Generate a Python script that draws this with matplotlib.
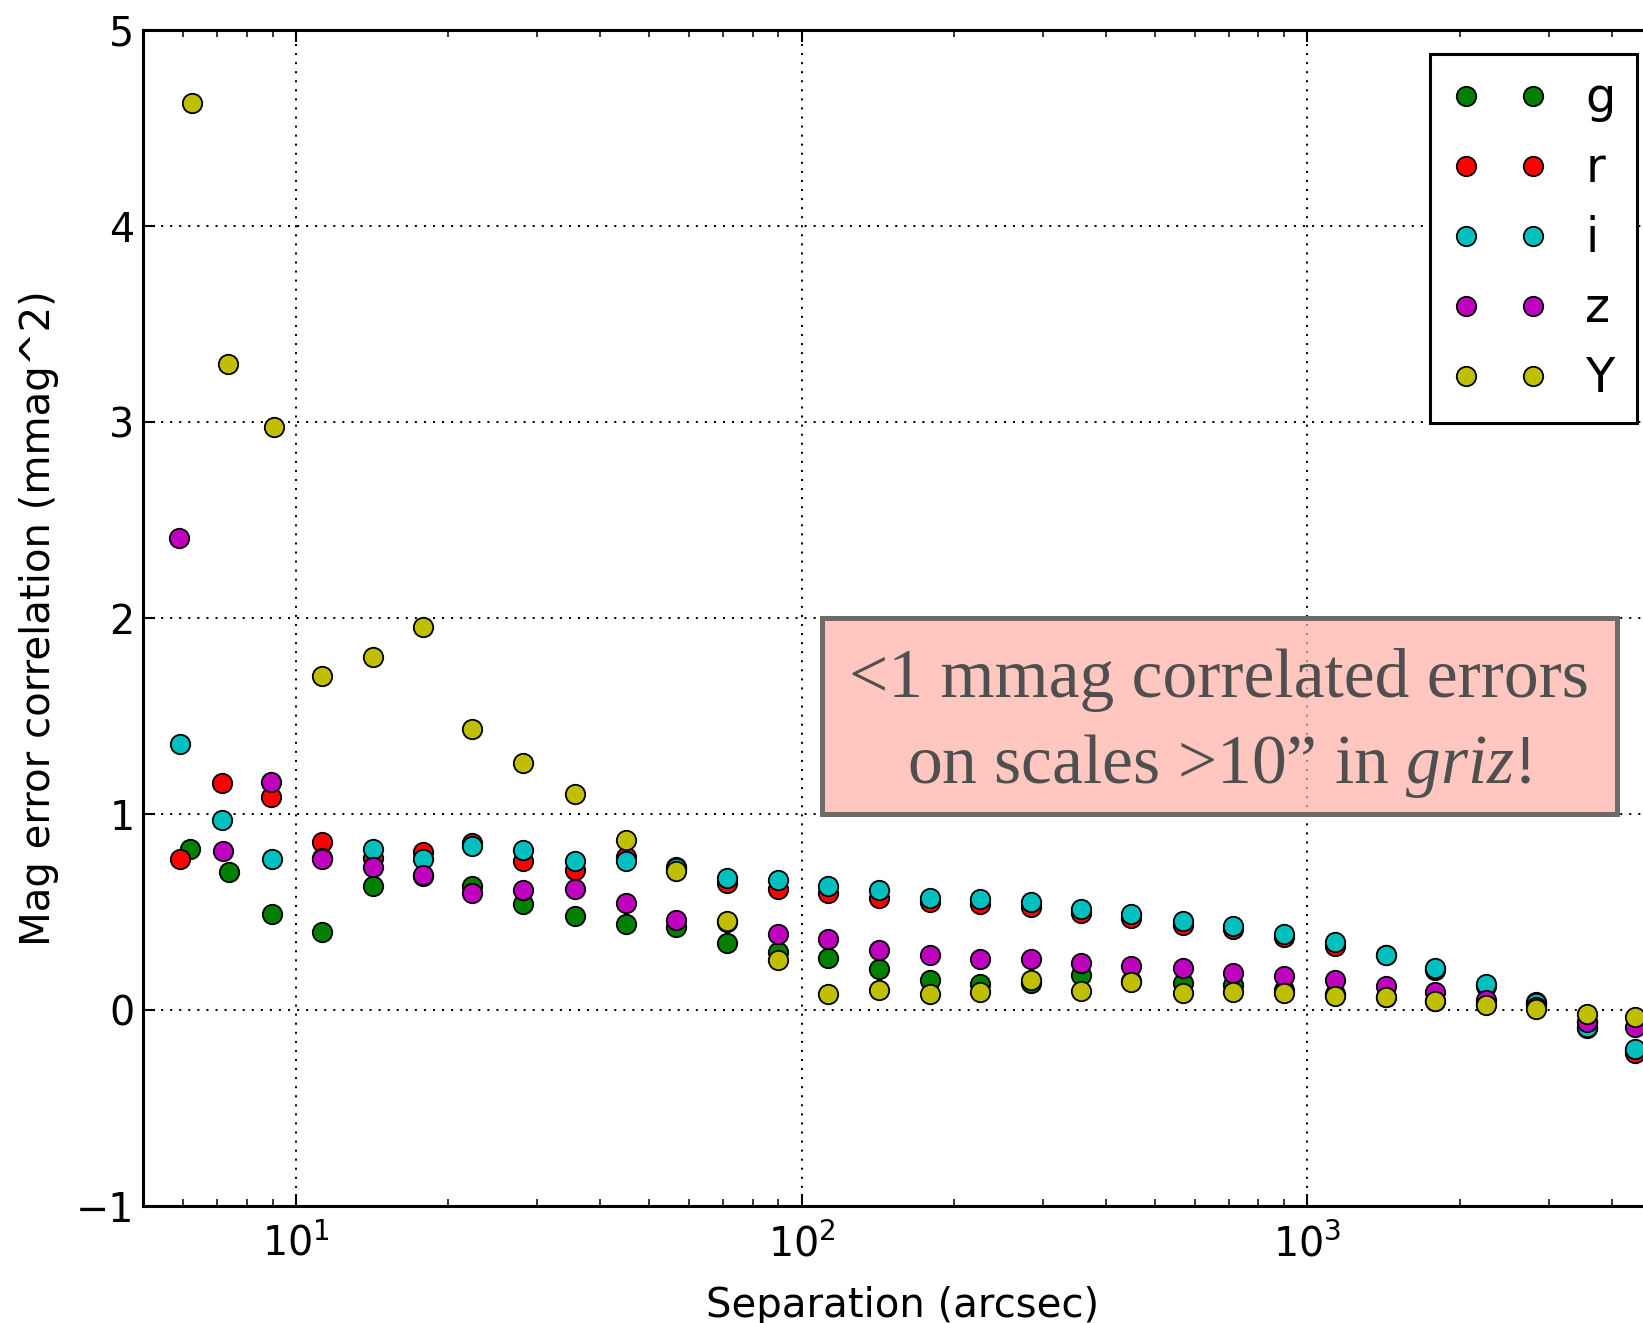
import matplotlib
matplotlib.use('Agg')
import matplotlib.pyplot as plt
from matplotlib.patches import Rectangle

# Separation bins (arcsec) shared by all bands beyond ~10"
sep = [11.27, 14.19, 17.82, 22.34, 28.18, 35.73, 44.98, 56.56, 71.29, 89.74,
       113.0, 142.2, 179.1, 225.4, 283.8, 357.3, 448.7, 567.5, 712.8, 897.5,
       1135, 1429, 1791, 2254, 2831, 3565, 4436]

# The three smallest bins have band-dependent mean separations
sep_g = [6.17, 7.37, 8.97]
sep_r = [5.90, 7.16, 8.95]
sep_i = [5.90, 7.14, 8.97]
sep_z = [5.87, 7.19, 8.95]
sep_Y = [6.24, 7.34, 9.06]

corr_g = [0.823, 0.707, 0.493,
          0.400, 0.634, 0.685, 0.634, 0.544, 0.481, 0.442, 0.423, 0.342, 0.299,
          0.269, 0.213, 0.153, 0.136, 0.140, 0.180, 0.150, 0.138, 0.128, 0.104,
          0.085, 0.070, 0.050, 0.030, 0.044, -0.060, -0.210]
corr_r = [0.770, 1.160, 1.090,
          0.857, 0.776, 0.810, 0.852, 0.762, 0.716, 0.784, 0.730, 0.648, 0.619,
          0.600, 0.573, 0.554, 0.543, 0.529, 0.498, 0.469, 0.437, 0.413, 0.376,
          0.328, 0.280, 0.205, 0.125, 0.030, -0.090, -0.219]
corr_i = [1.357, 0.971, 0.772,
          0.775, 0.823, 0.774, 0.840, 0.816, 0.762, 0.762, 0.725, 0.673, 0.665,
          0.636, 0.614, 0.575, 0.568, 0.554, 0.517, 0.491, 0.457, 0.432, 0.391,
          0.346, 0.284, 0.214, 0.134, 0.036, -0.083, -0.199]
corr_z = [2.412, 0.813, 1.163,
          0.770, 0.731, 0.689, 0.597, 0.614, 0.621, 0.546, 0.461, 0.450, 0.389,
          0.366, 0.306, 0.282, 0.264, 0.260, 0.243, 0.226, 0.218, 0.192, 0.176,
          0.153, 0.124, 0.095, 0.053, 0.015, -0.058, -0.083]
corr_Y = [4.630, 3.300, 2.974,
          1.704, 1.801, 1.954, 1.437, 1.264, 1.102, 0.871, 0.711, 0.456, 0.255,
          0.085, 0.102, 0.085, 0.094, 0.156, 0.100, 0.145, 0.087, 0.095, 0.089,
          0.074, 0.066, 0.048, 0.027, 0.005, -0.020, -0.036]

bands = ['g', 'r', 'i', 'z', 'Y']
seps = [sep_g + sep, sep_r + sep, sep_i + sep, sep_z + sep, sep_Y + sep]
corrs = [corr_g, corr_r, corr_i, corr_z, corr_Y]
colors = ['#008000', '#ff0000', '#00bfbf', '#bf00bf', '#bfbf00']

plt.rcParams['mathtext.rm'] = 'Liberation Serif'
plt.rcParams['mathtext.it'] = 'Liberation Serif:italic'

fig = plt.figure(figsize=(16.43, 13.23), dpi=100)
ax = fig.add_axes([0.0873, 0.0882, 0.9236, 0.8889])

for band, x, y, c in zip(bands, seps, corrs, colors):
    ax.plot(x, y, 'o', color=c, ms=14, mec='k', mew=1.3, label=band, zorder=2)

ax.set_xscale('log')
ax.set_xlim(5, 5000)
ax.set_ylim(-1, 5)
ax.set_yticks(range(-1, 6))

ax.set_xlabel('Separation (arcsec)', fontsize=29, labelpad=14.5)
ax.set_ylabel('Mag error correlation (mmag^2)', fontsize=29, labelpad=12)

for s in ax.spines.values():
    s.set_linewidth(2.2)
ax.tick_params(which='both', direction='in', top=True, right=True)
ax.tick_params(which='major', length=8.3, width=1.5, labelsize=28.5, pad=6.5)
ax.tick_params(axis='x', which='major', pad=13)
ax.tick_params(which='minor', length=4.8, width=1.1)

ax.set_axisbelow(True)
ax.grid(True, which='major', color='k', linestyle=(0, (1, 3.5)), linewidth=1.45)

leg = ax.legend(loc='upper right', numpoints=2, fontsize=34.5, fancybox=False,
                edgecolor='k', framealpha=1, borderpad=0.44, labelspacing=0.48,
                handlelength=2.0, handletextpad=0.8, borderaxespad=0.5)
leg.get_frame().set_linewidth(2.2)

# highlight box with the take-away message
box = Rectangle((110, 1.0), 4100 - 110, 1.0, facecolor=(1.0, 0.69, 0.647, 0.7),
                edgecolor='#6f6b69', linewidth=3.6, zorder=3)
ax.add_patch(box)
ax.text(669, 1.598, '<1 mmag correlated errors', fontsize=50, family='Liberation Serif',
        color='#4f4f4f', ha='center', va='baseline', zorder=4)
ax.text(669, 1.16, 'on scales >10\u201d in $\\mathit{griz}$!', fontsize=50,
        family='Liberation Serif', math_fontfamily='custom',
        color='#4f4f4f', ha='center', va='baseline', zorder=4)

fig.savefig('out.png', dpi=100)
